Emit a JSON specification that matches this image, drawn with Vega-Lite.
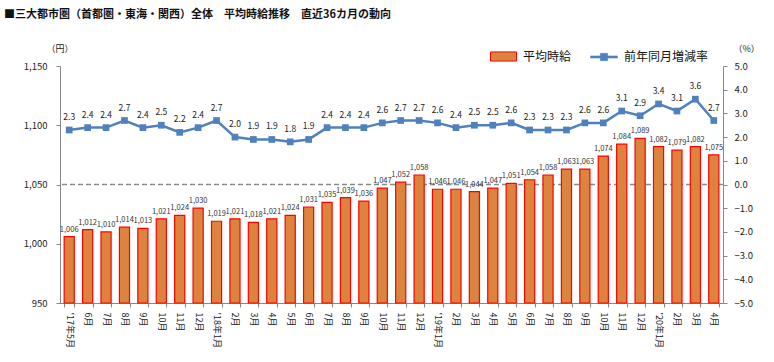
{
  "$schema": "https://vega.github.io/schema/vega-lite/v6.json",
  "width": 663,
  "height": 237,
  "autosize": {"type": "none"},
  "padding": {"left": 60, "top": 66, "right": 51, "bottom": 59},
  "background": "white",
  "config": {"font": "Noto Sans CJK JP", "view": {"stroke": null}, "axis": {"labelOverlap": false}},
  "title": {
    "text": "■三大都市圏（首都圏・東海・関西）全体　平均時給推移　直近36カ月の動向",
    "anchor": "start",
    "frame": "group",
    "dx": -56,
    "offset": 23,
    "fontSize": 11,
    "fontWeight": "bold",
    "color": "#111"
  },
  "data": {
    "values": [
      {"k": "2017-05|'17年5月", "v": 1006, "r": 2.3},
      {"k": "2017-06|6月", "v": 1012, "r": 2.4},
      {"k": "2017-07|7月", "v": 1010, "r": 2.4},
      {"k": "2017-08|8月", "v": 1014, "r": 2.7},
      {"k": "2017-09|9月", "v": 1013, "r": 2.4},
      {"k": "2017-10|10月", "v": 1021, "r": 2.5},
      {"k": "2017-11|11月", "v": 1024, "r": 2.2},
      {"k": "2017-12|12月", "v": 1030, "r": 2.4},
      {"k": "2018-01|'18年1月", "v": 1019, "r": 2.7},
      {"k": "2018-02|2月", "v": 1021, "r": 2.0},
      {"k": "2018-03|3月", "v": 1018, "r": 1.9},
      {"k": "2018-04|4月", "v": 1021, "r": 1.9},
      {"k": "2018-05|5月", "v": 1024, "r": 1.8},
      {"k": "2018-06|6月", "v": 1031, "r": 1.9},
      {"k": "2018-07|7月", "v": 1035, "r": 2.4},
      {"k": "2018-08|8月", "v": 1039, "r": 2.4},
      {"k": "2018-09|9月", "v": 1036, "r": 2.4},
      {"k": "2018-10|10月", "v": 1047, "r": 2.6},
      {"k": "2018-11|11月", "v": 1052, "r": 2.7},
      {"k": "2018-12|12月", "v": 1058, "r": 2.7},
      {"k": "2019-01|'19年1月", "v": 1046, "r": 2.6},
      {"k": "2019-02|2月", "v": 1046, "r": 2.4},
      {"k": "2019-03|3月", "v": 1044, "r": 2.5},
      {"k": "2019-04|4月", "v": 1047, "r": 2.5},
      {"k": "2019-05|5月", "v": 1051, "r": 2.6},
      {"k": "2019-06|6月", "v": 1054, "r": 2.3},
      {"k": "2019-07|7月", "v": 1058, "r": 2.3},
      {"k": "2019-08|8月", "v": 1063, "r": 2.3},
      {"k": "2019-09|9月", "v": 1063, "r": 2.6},
      {"k": "2019-10|10月", "v": 1074, "r": 2.6},
      {"k": "2019-11|11月", "v": 1084, "r": 3.1},
      {"k": "2019-12|12月", "v": 1089, "r": 2.9},
      {"k": "2020-01|'20年1月", "v": 1082, "r": 3.4},
      {"k": "2020-02|2月", "v": 1079, "r": 3.1},
      {"k": "2020-03|3月", "v": 1082, "r": 3.6},
      {"k": "2020-04|4月", "v": 1075, "r": 2.7}
    ]
  },
  "layer": [
    {
      "layer": [
        {
          "data": {"values": [{}]},
          "mark": {"type": "rule", "strokeDash": [5, 3], "color": "#8a8a8a", "strokeWidth": 1.3},
          "encoding": {
            "y": {
              "datum": 1050, "type": "quantitative",
              "scale": {"domain": [950, 1150], "zero": false, "nice": false},
              "axis": {
                "values": [950, 1000, 1050, 1100, 1150],
                "format": ",.0f",
                "grid": false,
                "tickSize": 4,
                "labelPadding": 9,
                "labelOverlap": false,
                "domainColor": "#888",
                "tickColor": "#888",
                "labelFontSize": 9.5,
                "labelColor": "#222",
                "title": "（円）",
                "titleAngle": 0,
                "titleX": -14,
                "titleY": -18,
                "titleAlign": "left",
                "titleBaseline": "middle",
                "titleFontSize": 9,
                "titleFontWeight": "normal",
                "titleColor": "#222"
              }
            }
          }
        },
        {
          "mark": {"type": "bar", "stroke": "#FF0000", "strokeWidth": 1.2},
          "encoding": {
            "x": {
              "field": "k", "type": "ordinal", "sort": null,
              "scale": {"paddingInner": 0.45, "paddingOuter": 0.225},
              "axis": {
                "title": null,
                "labelExpr": "split(datum.value,'|')[1]",
                "labelAngle": 90,
                "labelAlign": "left",
                "labelBaseline": "middle",
                "labelFontSize": 9,
                "labelColor": "#222",
                "labelPadding": 5,
                "tickBand": "extent",
                "tickSize": 4,
                "tickColor": "#888",
                "domainColor": "#888",
                "labelOverlap": false
              }
            },
            "y": {
              "field": "v", "type": "quantitative",
              "scale": {"domain": [950, 1150], "zero": false, "nice": false},
              "axis": {
                "values": [950, 1000, 1050, 1100, 1150],
                "format": ",.0f",
                "grid": false,
                "tickSize": 4,
                "labelPadding": 9,
                "labelOverlap": false,
                "domainColor": "#888",
                "tickColor": "#888",
                "labelFontSize": 9.5,
                "labelColor": "#222",
                "title": "（円）",
                "titleAngle": 0,
                "titleX": -14,
                "titleY": -18,
                "titleAlign": "left",
                "titleBaseline": "middle",
                "titleFontSize": 9,
                "titleFontWeight": "normal",
                "titleColor": "#222"
              }
            },
            "y2": {"datum": 950},
            "fill": {
              "datum": "平均時給",
              "scale": {"range": ["#DC843E"]},
              "legend": {
                "orient": "none",
                "legendX": 430,
                "legendY": -23,
                "direction": "horizontal",
                "title": null,
                "labelFontSize": 12,
                "labelColor": "#111",
                "labelOffset": 6,
                "symbolType": "M-1,-0.35H1V0.35H-1Z",
                "symbolSize": 676,
                "symbolStrokeColor": "#FF0000",
                "symbolStrokeWidth": 1,
                "encode": {
                  "symbols": {
                    "update": {
                      "stroke": {"value": "#FF0000"},
                      "strokeWidth": {"value": 1},
                      "fill": {"value": "#DC843E"},
                      "opacity": {"value": 1},
                      "fillOpacity": {"value": 1}
                    }
                  }
                }
              }
            }
          }
        },
        {
          "mark": {"type": "text", "dy": -7, "fontSize": 7.5, "color": "#333"},
          "encoding": {
            "x": {"field": "k", "type": "ordinal", "sort": null},
            "y": {"field": "v", "type": "quantitative"},
            "text": {"field": "v", "type": "quantitative", "format": ","}
          }
        }
      ]
    },
    {
      "layer": [
        {
          "mark": {"type": "line", "strokeWidth": 2.5},
          "encoding": {
            "x": {"field": "k", "type": "ordinal", "sort": null},
            "y": {
              "field": "r", "type": "quantitative",
              "scale": {"domain": [-5, 5], "nice": false, "zero": false},
              "axis": {
                "orient": "right",
                "values": [-5, -4, -3, -2, -1, 0, 1, 2, 3, 4, 5],
                "format": ".1f",
                "grid": false,
                "tickSize": 4,
                "labelPadding": 7,
                "labelOverlap": false,
                "labelFlush": false,
                "domainColor": "#888",
                "tickColor": "#888",
                "labelFontSize": 9.5,
                "labelColor": "#222",
                "title": "（%）",
                "titleAngle": 0,
                "titleX": 10,
                "titleY": -18,
                "titleAlign": "left",
                "titleBaseline": "middle",
                "titleFontSize": 9,
                "titleFontWeight": "normal",
                "titleColor": "#222"
              }
            },
            "stroke": {
              "datum": "前年同月増減率",
              "scale": {"range": ["#4F81BD"]},
              "legend": {
                "orient": "none",
                "legendX": 530,
                "legendY": -23,
                "direction": "horizontal",
                "title": null,
                "labelFontSize": 12,
                "labelColor": "#111",
                "labelOffset": 6,
                "symbolType": "M-1,-0.08H1V0.08H-1Z M-0.27,-0.27H0.27V0.27H-0.27Z",
                "symbolSize": 729,
                "symbolFillColor": "#4F81BD",
                "symbolStrokeWidth": 0.5,
                "encode": {
                  "symbols": {
                    "update": {
                      "fill": {"value": "#4F81BD"},
                      "stroke": {"value": "#4F81BD"},
                      "strokeWidth": {"value": 0.5},
                      "opacity": {"value": 1},
                      "fillOpacity": {"value": 1}
                    }
                  }
                }
              }
            }
          }
        },
        {
          "mark": {"type": "point", "shape": "square", "filled": true, "size": 45, "opacity": 1, "color": "#4F81BD"},
          "encoding": {
            "x": {"field": "k", "type": "ordinal", "sort": null},
            "y": {
              "field": "r", "type": "quantitative",
              "axis": {
                "orient": "right",
                "values": [-5, -4, -3, -2, -1, 0, 1, 2, 3, 4, 5],
                "format": ".1f",
                "grid": false,
                "tickSize": 4,
                "labelPadding": 7,
                "labelOverlap": false,
                "labelFlush": false,
                "domainColor": "#888",
                "tickColor": "#888",
                "labelFontSize": 9.5,
                "labelColor": "#222",
                "title": "（%）",
                "titleAngle": 0,
                "titleX": 10,
                "titleY": -18,
                "titleAlign": "left",
                "titleBaseline": "middle",
                "titleFontSize": 9,
                "titleFontWeight": "normal",
                "titleColor": "#222"
              }
            }
          }
        },
        {
          "mark": {"type": "text", "dy": -13, "fontSize": 8.5, "color": "#222"},
          "encoding": {
            "x": {"field": "k", "type": "ordinal", "sort": null},
            "y": {
              "field": "r", "type": "quantitative",
              "axis": {
                "orient": "right",
                "values": [-5, -4, -3, -2, -1, 0, 1, 2, 3, 4, 5],
                "format": ".1f",
                "grid": false,
                "tickSize": 4,
                "labelPadding": 7,
                "labelOverlap": false,
                "labelFlush": false,
                "domainColor": "#888",
                "tickColor": "#888",
                "labelFontSize": 9.5,
                "labelColor": "#222",
                "title": "（%）",
                "titleAngle": 0,
                "titleX": 10,
                "titleY": -18,
                "titleAlign": "left",
                "titleBaseline": "middle",
                "titleFontSize": 9,
                "titleFontWeight": "normal",
                "titleColor": "#222"
              }
            },
            "text": {"field": "r", "type": "quantitative", "format": ".1f"}
          }
        }
      ]
    }
  ],
  "resolve": {"scale": {"y": "independent"}}
}
